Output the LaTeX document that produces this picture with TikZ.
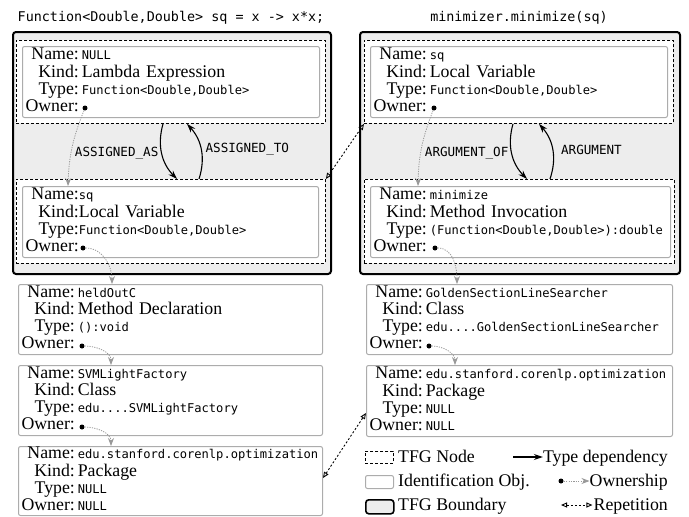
\documentclass[tikz,border=0pt]{standalone}
\usepackage{fontspec}
\setmainfont{Liberation Serif}
\newfontfamily\codefont{DejaVu Sans Mono}
\usetikzlibrary{arrows.meta,calc,positioning}
\newcommand{\cd}[1]{{\fontsize{12.1}{17}\codefont #1}}

\begin{document}
\begin{tikzpicture}[x=1pt,y=1pt,
        every node/.style={inner sep=0pt},
        boundary/.style={draw=black, line width=2pt, fill=gray!14, rounded corners=3pt, anchor=north west},
        tfgnode/.style={draw=black, fill=white, line width=0.9pt, dash pattern=on 3pt off 2pt, anchor=north west},
        ident/.style={draw=gray!65, fill=white, line width=1pt, rounded corners=2pt, anchor=north west,
                inner xsep=3pt, align=left, font=\fontsize{17.8}{17}\selectfont},
        ownerdot/.style={circle, fill=black, minimum size=5pt},
        typedep/.style={line width=1.1pt, -{Stealth[length=9pt,width=6pt]}},
        ownership/.style={gray!80, line width=0.8pt, dash pattern=on 1.2pt off 1.2pt, -{Stealth[length=8pt,width=6pt]}},
        repetition/.style={line width=0.9pt, dash pattern=on 2pt off 2pt,
                {Triangle[open,length=6pt,width=5pt]}-{Triangle[open,length=6pt,width=5pt]}},
        reltag/.style={font=\fontsize{12.6}{14}\codefont},
        stmt/.style={font=\fontsize{13.4}{16}\codefont, anchor=base},
        legtext/.style={font=\fontsize{17.8}{18}\selectfont}]
        \useasboundingbox (0,0) rectangle (689,-517);

        \node[stmt] (stmtL) at (171,-21) {Function<Double,Double> sq = x -> x*x;};
        \node[stmt] (stmtR) at (519,-21) {minimizer.minimize(sq)};

        \node[boundary, minimum width=318pt, minimum height=242pt] (bndL) at (12,-31) {};
        \node[boundary, minimum width=320pt, minimum height=242pt] (bndR) at (359,-31) {};

        \node[tfgnode, minimum width=309pt, minimum height=83pt] (tfgLa) at (16,-40) {};
        \node[tfgnode, minimum width=309pt, minimum height=84pt] (tfgLb) at (16,-179) {};
        \node[tfgnode, minimum width=309pt, minimum height=83pt] (tfgRa) at (364,-40) {};
        \node[tfgnode, minimum width=310pt, minimum height=84pt] (tfgRb) at (364,-179) {};

        % left statement
        \node[ident, text width=291pt, minimum height=71pt] (lambda) at (22,-46) {%
                \begin{tabular}{@{}r@{\,}l@{}}
                Name: & \cd{NULL}\\ Kind: & Lambda Expression\\
                Type: & \cd{Function<Double,Double>}\\ Owner: & \end{tabular}};
        \node[ident, text width=290pt, minimum height=71pt] (sqL) at (22,-186) {%
                \begin{tabular}{@{}r@{}l@{}}
                Name: & \cd{sq}\\ Kind: & Local Variable\\
                Type: & \cd{Function<Double,Double>}\\ Owner: & \end{tabular}};
        \node[ident, text width=298pt, minimum height=70pt] (heldOut) at (18,-284) {%
                \begin{tabular}{@{}r@{\,}l@{}}
                Name: & \cd{heldOutC}\\ Kind: & Method Declaration\\
                Type: & \cd{():void}\\ Owner: & \end{tabular}};
        \node[ident, text width=298pt, minimum height=70pt] (svmFactory) at (18,-365) {%
                \begin{tabular}{@{}r@{\,}l@{}}
                Name: & \cd{SVMLightFactory}\\ Kind: & Class\\
                Type: & \cd{edu....SVMLightFactory}\\ Owner: & \end{tabular}};
        \node[ident, text width=298pt, minimum height=69pt] (pkgL) at (18,-446) {%
                \begin{tabular}{@{}r@{\,}l@{}}
                Name: & \cd{edu.stanford.corenlp.optimization}\\ Kind: & Package\\
                Type: & \cd{NULL}\\ Owner: & \cd{NULL}\end{tabular}};

        % right statement
        \node[ident, text width=291pt, minimum height=71pt] (sqR) at (370,-46) {%
                \begin{tabular}{@{}r@{\,}l@{}}
                Name: & \cd{sq}\\ Kind: & Local Variable\\
                Type: & \cd{Function<Double,Double>}\\ Owner: & \end{tabular}};
        \node[ident, text width=294pt, minimum height=71pt] (invoke) at (370,-186) {%
                \begin{tabular}{@{}r@{\,}l@{}}
                Name: & \cd{minimize}\\ Kind: & Method Invocation\\
                Type: & \cd{(Function<Double,Double>):double}\\ Owner: & \end{tabular}};
        \node[ident, text width=300pt, minimum height=70pt] (golden) at (366,-284) {%
                \begin{tabular}{@{}r@{\,}l@{}}
                Name: & \cd{GoldenSectionLineSearcher}\\ Kind: & Class\\
                Type: & \cd{edu....GoldenSectionLineSearcher}\\ Owner: & \end{tabular}};
        \node[ident, text width=300pt, minimum height=71pt] (pkgR) at (366,-365) {%
                \begin{tabular}{@{}r@{\,}l@{}}
                Name: & \cd{edu.stanford.corenlp.optimization}\\ Kind: & Package\\
                Type: & \cd{NULL}\\ Owner: & \cd{NULL}\end{tabular}};

        \node[ownerdot] (ownLambda) at ($(lambda.south west)+(63,10)$) {};
        \node[ownerdot] (ownSqL) at ($(sqL.south west)+(61,10)$) {};
        \node[ownerdot] (ownHeld) at ($(heldOut.south west)+(64,9)$) {};
        \node[ownerdot] (ownSvm) at ($(svmFactory.south west)+(64,9)$) {};
        \node[ownerdot] (ownSqR) at ($(sqR.south west)+(64,10)$) {};
        \node[ownerdot] (ownInvoke) at ($(invoke.south west)+(65,10)$) {};
        \node[ownerdot] (ownGolden) at ($(golden.south west)+(63,9)$) {};

        \draw[ownership] (ownLambda) to[bend right=10] ($(sqL.north west)+(46,0)$);
        \draw[ownership] (ownSqR) to[bend right=10] ($(invoke.north west)+(48,0)$);
        \draw[ownership] (ownSqL) to[out=0,in=90] ($(heldOut.north west)+(94,0)$);
        \draw[ownership] (ownHeld) to[out=0,in=90] ($(svmFactory.north west)+(93,0)$);
        \draw[ownership] (ownSvm) to[out=0,in=90] ($(pkgL.north west)+(93,0)$);
        \draw[ownership] (ownInvoke) to[out=0,in=90] ($(golden.north west)+(91,0)$);
        \draw[ownership] (ownGolden) to[out=0,in=90] ($(pkgR.north west)+(89,0)$);

        \draw[typedep] ($(tfgLa.south west)+(147,0)$) to[bend right=30]
                node[midway, left=3pt, reltag] {ASSIGNED\_AS} ($(tfgLb.north west)+(161,0)$);
        \draw[typedep] ($(tfgLb.north west)+(183,0)$) to[bend right=30]
                node[midway, right=4pt, reltag] {ASSIGNED\_TO} ($(tfgLa.south west)+(171,0)$);
        \draw[typedep] ($(tfgRa.south west)+(149,0)$) to[bend right=30]
                node[midway, left=3pt, reltag] {ARGUMENT\_OF} ($(tfgRb.north west)+(163,0)$);
        \draw[typedep] ($(tfgRb.north west)+(186,0)$) to[bend right=30]
                node[midway, right=8pt, reltag] {ARGUMENT} ($(tfgRa.south west)+(175,0)$);

        \draw[repetition] (tfgRa.south west) -- (tfgLb.north east);
        \draw[repetition] ($(pkgL.east)+(0,3)$) -- ($(pkgR.south west)+(0,24)$);

        % key
        \node[tfgnode, minimum width=28pt, minimum height=12pt] (keyTfg) at (365,-451) {};
        \node[ident, minimum width=28pt, minimum height=13pt] (keyIdent) at (365,-475) {};
        \node[boundary, line width=1.6pt, minimum width=28pt, minimum height=14pt] (keyBnd) at (365,-499) {};
        \node[legtext, anchor=base west] (keyTfgTxt) at (398,-462) {TFG Node};
        \node[legtext, anchor=base west] (keyIdentTxt) at (398,-486) {Identification Obj.};
        \node[legtext, anchor=base west] (keyBndTxt) at (398,-510) {TFG Boundary};
        \node[legtext, anchor=base east] (keyDepTxt) at (668,-462) {Type dependency};
        \node[legtext, anchor=base east] (keyOwnTxt) at (668,-486) {Ownership};
        \node[legtext, anchor=base east] (keyRepTxt) at (668,-510) {Repetition};
        \coordinate (depStart) at (513,-457);
        \node[ownerdot] (keyDot) at (561,-481) {};
        \coordinate (repStart) at (561,-505);
        \draw[typedep] (depStart) -- (depStart -| keyDepTxt.west);
        \draw[ownership] (keyDot) -- (keyDot -| keyOwnTxt.west);
        \draw[repetition] (repStart) -- ($(repStart -| keyRepTxt.west)+(-1,0)$);
\end{tikzpicture}
\end{document}
